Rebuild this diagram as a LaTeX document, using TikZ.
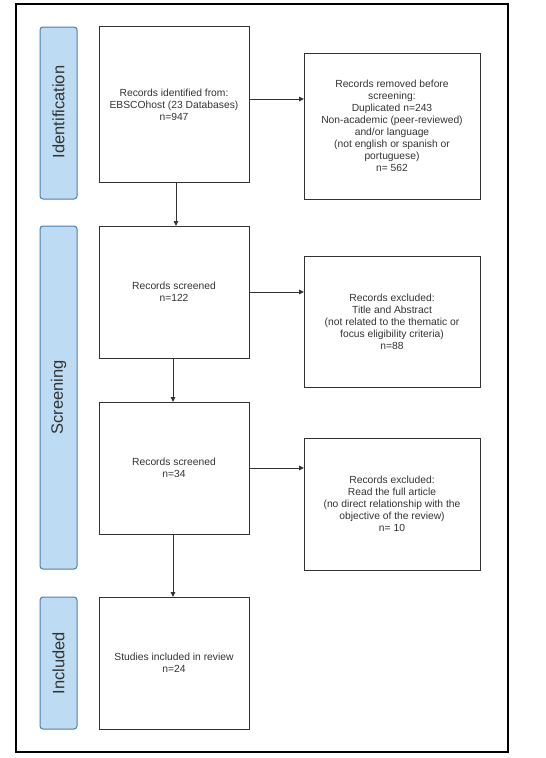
\documentclass[tikz,border=0pt]{standalone}
\usepackage{fontspec}
\setmainfont{Liberation Sans}
\usetikzlibrary{arrows.meta}
\definecolor{tabfill}{HTML}{BDDCF3}
\definecolor{tabline}{HTML}{4C7DAE}
\definecolor{ink}{HTML}{333333}
\begin{document}
\begin{tikzpicture}[x=1pt,y=-1pt,
  boxs/.style={draw=ink, line width=0.9pt, fill=white, inner sep=0pt},
  tabs/.style={draw=tabline, line width=1pt, fill=tabfill, rounded corners=3pt},
  txt/.style={align=center, font=\fontsize{10.3}{12}\selectfont, text=ink},
  tabtxt/.style={rotate=90, font=\fontsize{16.5}{18}\selectfont, text=ink},
  arr/.style={draw=ink, line width=0.9pt, -{Triangle[length=5pt,width=4.5pt]}}]
\useasboundingbox (0,0) rectangle (546,758);
\fill[white] (0,0) rectangle (546,758);
\draw[line width=1.4pt, black] (16,4) rectangle (508,752);
% tabs
\draw[tabs] (40,27) rectangle (77,199);
\node[tabtxt] (tid) at (58.5,112) {Identification};
\draw[tabs] (40,226) rectangle (77,569);
\node[tabtxt] (tsc) at (58.5,397.5) {Screening};
\draw[tabs] (40,597) rectangle (77,729);
\node[tabtxt] (tin) at (58.5,663) {Included};
% boxes
\draw[boxs] (99,26) rectangle (249,182);
\node[txt] (t1) at (174,105) {Records identified from:\\EBSCOhost (23 Databases)\\n=947};
\draw[boxs] (304,53) rectangle (480,199);
\node[txt] (t1r) at (392,126) {Records removed before\\screening:\\Duplicated n=243\\Non-academic (peer-reviewed)\\and/or language\\(not english or spanish or\\portuguese)\\n= 562};
\draw[boxs] (99,226) rectangle (249,358);
\node[txt] (t2) at (174,292) {Records screened\\n=122};
\draw[boxs] (304,256) rectangle (480,387);
\node[txt] (t2r) at (392,321.5) {Records excluded:\\Title and Abstract\\(not related to the thematic or\\focus eligibility criteria)\\n=88};
\draw[boxs] (99,402) rectangle (249,534);
\node[txt] (t3) at (174,468) {Records screened\\n=34};
\draw[boxs] (304,438) rectangle (480,570);
\node[txt] (t3r) at (392,504) {Records excluded:\\Read the full article\\(no direct relationship with the\\objective of the review)\\n= 10};
\draw[boxs] (99,597) rectangle (249,729);
\node[txt] (t4) at (174,663) {Studies included in review\\n=24};
% connector anchor coordinates
\coordinate (b1r) at (249,99);  \coordinate (r1l) at (304,99);
\coordinate (b1b) at (176,182); \coordinate (b2t) at (176,226);
\coordinate (b2r) at (249,292); \coordinate (r2l) at (304,292);
\coordinate (b2b) at (173,358); \coordinate (b3t) at (173,402);
\coordinate (b3r) at (249,468); \coordinate (r3l) at (304,468);
\coordinate (b3b) at (173,534); \coordinate (b4t) at (173,597);
\draw[arr] (b1r) -- (r1l);
\draw[arr] (b1b) -- (b2t);
\draw[arr] (b2r) -- (r2l);
\draw[arr] (b2b) -- (b3t);
\draw[arr] (b3r) -- (r3l);
\draw[arr] (b3b) -- (b4t);
\end{tikzpicture}
\end{document}
